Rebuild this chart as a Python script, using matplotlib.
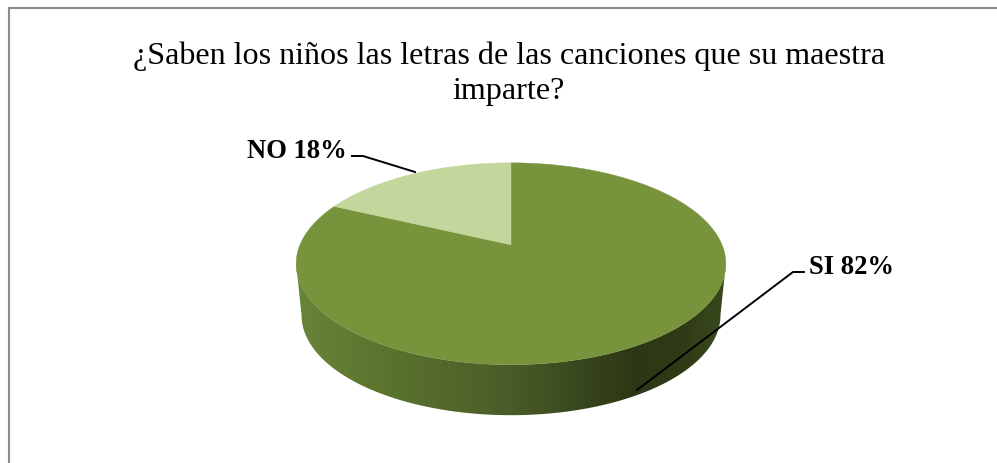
import numpy as np
import matplotlib
matplotlib.use("Agg")
import matplotlib.pyplot as plt
from matplotlib.colors import LinearSegmentedColormap
from matplotlib.patches import Polygon

title = "¿Saben los niños las letras de las canciones que su maestra\nimparte?"
categories = ["SI", "NO"]
percents = [82, 18]
slice_colors = ["#77933C", "#C3D69B"]

plt.rcParams["font.family"] = ["Liberation Serif", "DejaVu Serif"]

fig = plt.figure(figsize=(9.97, 4.64), dpi=100)
ax = fig.add_axes([0, 0, 1, 1])
ax.set_xlim(0, 997)
ax.set_ylim(464, 0)
ax.axis("off")

# pie geometry in pixels, perspective keeps the apex above the ellipse centre
cx = 511
radius = 211
apex_y = 245
persp_a = -51.3
persp_c = 0.188
shift_y = 0.8
wall_x_scale = 0.975
wall_y_scale = 0.99
top_cy = 264
wall_cy = 315.5


def project(theta):
    # theta measured clockwise from 12 o'clock
    u = np.sin(theta)
    v = np.cos(theta)
    x = cx + radius * u / (1 + persp_c * v)
    y = (persp_a * v + apex_y) / (1 + persp_c * v) + shift_y
    return x, y


# side wall: gradient clipped to the band between the two ellipses
tangent = np.arccos(-persp_c)
th = np.linspace(tangent, 2 * np.pi - tangent, 200)
x_top, y_top = project(th)
x_low = cx + (x_top - cx) * wall_x_scale
y_low = wall_cy + (y_top - top_cy) * wall_y_scale
wall_pts = np.column_stack([np.r_[x_top, x_low[::-1]], np.r_[y_top, y_low[::-1]]])

wall_cmap = LinearSegmentedColormap.from_list(
    "wall",
    [(0.0, "#688538"), (0.2, "#5B742F"), (0.5, "#4A5C27"),
     (0.78, "#2C3815"), (0.9, "#2F3B16"), (1.0, "#3A4A1C")],
)
wall_poly = Polygon(wall_pts, closed=True, fc="none", ec="none")
ax.add_patch(wall_poly)
grad = ax.imshow(np.linspace(0, 1, 256).reshape(1, -1), cmap=wall_cmap,
                 extent=(296, 726, 420, 260), aspect="auto", zorder=1)
grad.set_clip_path(wall_poly)
ax.set_xlim(0, 997)
ax.set_ylim(464, 0)

# top face
start = 0.0
for pct, color in zip(percents, slice_colors):
    end = start + pct / sum(percents) * 2 * np.pi
    t = np.linspace(start, end, 300)
    xs, ys = project(t)
    pts = np.column_stack([np.r_[cx, xs], np.r_[apex_y + shift_y, ys]])
    ax.add_patch(Polygon(pts, closed=True, fc=color, ec=color, lw=0.3, zorder=2))
    start = end

# leader lines
ax.plot([352, 363, 415], [157, 157, 173], color="black", lw=1.4, zorder=3)
ax.plot([804, 793, 637], [273, 273, 391], color="black", lw=1.4, zorder=3)

# labels
ax.text(297, 152, f"{categories[1]} {percents[1]}%", fontsize=19.2, fontweight="bold",
        ha="center", va="center", zorder=4)
ax.text(851, 268, f"{categories[0]} {percents[0]}%", fontsize=19.2, fontweight="bold",
        ha="center", va="center", zorder=4)
ax.text(509, 74, title, fontsize=23.1, ha="center", va="center", linespacing=1.28, zorder=4)

# chart frame, open at the bottom and right edge cut by the crop
ax.plot([9, 9], [464, 9], color="#8C8C8C", lw=1.5, zorder=5)
ax.plot([9, 997], [9, 9], color="#8C8C8C", lw=1.5, zorder=5)

fig.savefig("out.png", dpi=100)
